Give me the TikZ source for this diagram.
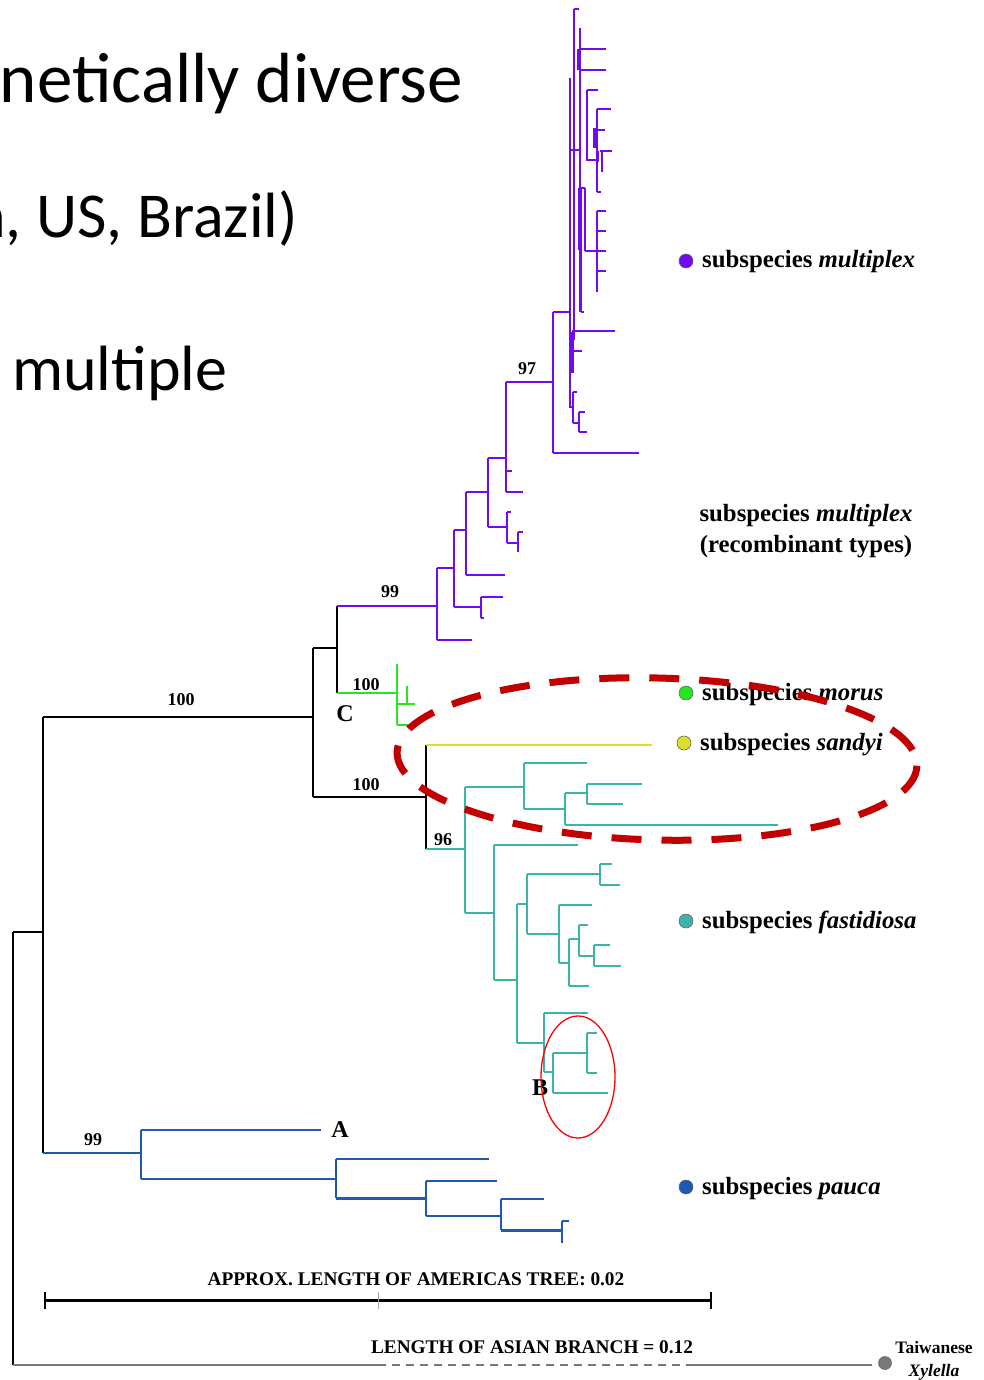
\documentclass[tikz,border=0pt]{standalone}
\usepackage{fontspec}
\setmainfont{Liberation Serif}
\newfontfamily\calib{Carlito}
\definecolor{cpur}{RGB}{112,10,240}
\definecolor{cgrn}{RGB}{40,230,30}
\definecolor{cyel}{RGB}{220,222,40}
\definecolor{cteal}{RGB}{60,180,170}
\definecolor{cblu}{RGB}{30,90,180}
\definecolor{cdred}{RGB}{195,0,0}
\definecolor{cgry}{RGB}{120,120,120}
\tikzset{
  br/.style={line width=2.3pt},
  pur/.style={br,draw=cpur},
  grn/.style={br,draw=cgrn},
  yel/.style={br,draw=cyel},
  teal/.style={br,draw=cteal},
  blu/.style={br,draw=cblu},
  blk/.style={br,draw=black},
  boot/.style={font=\fontsize{18}{20}\selectfont\bfseries,anchor=base,inner sep=0pt},
  clab/.style={font=\fontsize{24}{26}\selectfont\bfseries,anchor=base,inner sep=0pt},
  sub/.style={font=\fontsize{24.8}{28}\selectfont\bfseries,anchor=base west,inner sep=0pt},
  dot/.style={circle,draw=black!60,line width=0.6pt,minimum size=14pt,inner sep=0pt},
  big/.style={font=\calib\fontsize{64}{70}\selectfont,inner sep=0pt},
  scl/.style={font=\fontsize{19.3}{22}\selectfont\bfseries,anchor=base,inner sep=0pt},
}
\begin{document}
\begin{tikzpicture}[x=1pt,y=-1pt]
\useasboundingbox (0,0) rectangle (984,1380);
% slide text (cut at the left edge)
\node[big,font=\calib\fontsize{71}{76}\selectfont,anchor=base east] (t1) at (463,103) {netically diverse};
\node[big,anchor=base east] (t2) at (298,237) {n, US, Brazil)};
\node[big,anchor=base west] (t3) at (12,390) {multiple};
% root and backbone
\draw[blk] (13,932) -- (13,1365);
\draw[blk] (13,932) -- (43,932);
\draw[blk] (43,717) -- (43,1153);
\draw[blk] (43,717) -- (313,717);
\draw[blk] (313,648) -- (313,797);
\draw[blk] (313,648) -- (337,648);
\draw[blk] (337,606) -- (337,693);
\draw[blk] (313,797) -- (426,797);
\draw[blk] (426,745) -- (426,849);
% bottom grey Asian branch
\draw[line width=2.6pt,cgry] (13,1365) -- (378,1365);
\draw[line width=2.6pt,cgry,dash pattern=on 8pt off 6pt] (378,1365) -- (686,1365);
\draw[line width=2.6pt,cgry] (686,1365) -- (872,1365);
\node[dot,fill=cgry,minimum size=13pt] (tw) at (885,1363) {};
\node[font=\fontsize{17.5}{20}\selectfont\bfseries,anchor=base,inner sep=0pt] (twa) at (934,1353) {Taiwanese};
\node[font=\fontsize{17.5}{20}\selectfont\bfseries\itshape,anchor=base,inner sep=0pt] (twb) at (934,1376) {Xylella};
% scale bar
\draw[line width=3pt] (45,1300) -- (711,1300);
\draw[line width=2pt] (45,1292) -- (45,1309) (711,1292) -- (711,1309);
\draw[line width=0.5pt,black!35] (378,1292) -- (378,1309);
\node[scl] (sc1) at (416,1285) {APPROX. LENGTH OF AMERICAS TREE: 0.02};
\node[scl] (sc2) at (532,1353) {LENGTH OF ASIAN BRANCH = 0.12};
% ---- purple clade (recombinant part)
\draw[pur] (337,606) -- (437,606);
\draw[pur] (437,568) -- (437,640) (437,640) -- (472,640) (437,568) -- (454,568);
\draw[pur] (454,530) -- (454,607) (454,607) -- (481,607) (481,597) -- (481,618) (481,597) -- (503,597) (481,618) -- (484,618);
\draw[pur] (454,530) -- (466,530) (466,492) -- (466,575) (466,575) -- (505,575);
\draw[pur] (466,492) -- (488,492) (488,458) -- (488,527) (488,527) -- (507,527);
\draw[pur] (507,512) -- (507,543) (507,512) -- (511,512) (507,543) -- (518,543) (518,532) -- (518,552) (518,532) -- (523,532);
\draw[pur] (488,458) -- (506,458) (506,382) -- (506,492) (506,492) -- (523,492) (506,471) -- (512,471);
\draw[pur] (506,382) -- (553,382);
\draw[pur] (553,312) -- (553,453) (553,453) -- (639,453) (553,312) -- (569,312);
% ---- purple top cluster
\draw[pur] (570,78) -- (570,407) (574,9) -- (574,340) (574,9) -- (579,9);
\draw[pur] (580,28) -- (580,312) (580,49) -- (606,49) (580,70) -- (606,70);
\draw[pur,line width=4pt] (579,49) -- (579,70);
\draw[pur] (570,150) -- (580,150);
\draw[pur] (587,90) -- (587,160) (587,90) -- (598,90) (586,160) -- (598,160);
\draw[pur] (597,109) -- (597,192) (597,109) -- (611,109) (597,192) -- (601,192);
\draw[pur,line width=4pt] (595,128) -- (595,148);
\draw[pur] (595,130) -- (605,130) (600,151) -- (612,151) (602,151) -- (602,172) (598,151) -- (598,162);
\draw[pur] (579,188) -- (579,250) (581,188) -- (581,312) (579,188) -- (585,188) (581,312) -- (584,312);
\draw[pur] (585,188) -- (585,251) (585,251) -- (606,251);
\draw[pur] (597,211) -- (597,292) (597,211) -- (606,211) (597,231) -- (606,231) (597,271) -- (606,271);
\draw[pur,line width=4pt] (572,332) -- (572,373);
\draw[pur] (572,331) -- (615,331) (572,351) -- (582,351);
\draw[pur] (569,407) -- (574,407) (573,392) -- (573,423) (573,392) -- (577,392) (573,423) -- (579,423);
\draw[pur] (579,412) -- (579,432) (579,412) -- (585,412) (579,432) -- (587,432);
% ---- green clade
\draw[grn] (337,693) -- (397,693);
\draw[grn] (397,664) -- (397,725) (397,725) -- (413,725) (397,704) -- (407,704);
\draw[grn] (407,686) -- (407,704) (407,704) -- (415,704);
% ---- sandyi
\draw[yel] (426,745) -- (652,745);
% ---- teal clade
\draw[teal] (426,849) -- (465,849) (465,787) -- (465,913);
\draw[teal] (465,787) -- (524,787) (524,763) -- (524,809) (524,763) -- (587,763) (524,809) -- (565,809);
\draw[teal] (565,793) -- (565,825) (565,825) -- (778,825) (565,793) -- (587,793);
\draw[teal] (587,784) -- (587,804) (587,784) -- (642,784) (587,804) -- (623,804);
\draw[teal] (465,913) -- (494,913) (494,845) -- (494,980) (494,845) -- (578,845);
\draw[teal] (494,980) -- (517,980) (517,904) -- (517,1043);
\draw[teal] (517,904) -- (527,904) (527,874) -- (527,934) (527,874) -- (600,874);
\draw[teal] (600,864) -- (600,885) (600,864) -- (612,864) (600,885) -- (620,885);
\draw[teal] (527,934) -- (559,934) (559,905) -- (559,963) (559,905) -- (592,905) (559,963) -- (569,963);
\draw[teal] (569,939) -- (569,986) (569,986) -- (589,986) (569,939) -- (579,939);
\draw[teal] (579,925) -- (579,956) (579,925) -- (588,925) (579,956) -- (594,956);
\draw[teal] (594,945) -- (594,966) (594,945) -- (610,945) (594,966) -- (621,966);
\draw[teal] (517,1043) -- (544,1043) (544,1013) -- (544,1072) (544,1013) -- (588,1013) (544,1072) -- (553,1072);
\draw[teal] (553,1053) -- (553,1093) (553,1093) -- (608,1093) (553,1053) -- (587,1053);
\draw[teal] (587,1033) -- (587,1073) (587,1033) -- (597,1033) (587,1073) -- (597,1073);
% ---- blue clade
\draw[blu] (43,1153) -- (141,1153) (141,1130) -- (141,1179) (141,1130) -- (321,1130) (141,1179) -- (336,1179);
\draw[blu] (336,1159) -- (336,1198) (336,1159) -- (489,1159);
\draw[blu,line width=3pt] (336,1198) -- (426,1198);
\draw[blu] (426,1181) -- (426,1216) (426,1181) -- (497,1181) (426,1216) -- (501,1216);
\draw[blu] (501,1199) -- (501,1230) (501,1199) -- (544,1199);
\draw[blu,line width=3pt] (501,1230) -- (562,1230);
\draw[blu] (562,1221) -- (562,1243) (562,1221) -- (569,1221);
% bootstrap values and clade letters
\node[boot] (b1) at (181,705) {100};
\node[boot] (b2) at (390,597) {99};
\node[boot] (b3) at (527,374) {97};
\node[boot] (b4) at (366,690) {100};
\node[boot] (b5) at (366,790) {100};
\node[boot] (b6) at (443,845) {96};
\node[boot] (b7) at (93,1145) {99};
\node[clab] (lc) at (345,721) {C};
\node[clab] (lb) at (540,1095) {B};
\node[clab] (la) at (340,1137) {A};
% legend labels
\node[dot,fill=cpur] (d1) at (686,261) {};
\node[sub] (s1) at (702,267) {subspecies \textit{multiplex}};
\node[font=\fontsize{24.8}{31}\selectfont\bfseries,align=center,inner sep=0pt,anchor=base] (s2) at (806,552) {subspecies \textit{multiplex}\\(recombinant types)};
\node[dot,fill=cgrn] (d3) at (686,693) {};
\node[sub] (s3) at (702,700) {subspecies \textit{morus}};
\node[dot,fill=cyel] (d4) at (684,743) {};
\node[sub] (s4) at (700,750) {subspecies \textit{sandyi}};
\node[dot,fill=cteal] (d5) at (686,921) {};
\node[sub] (s5) at (702,928) {subspecies \textit{fastidiosa}};
\node[dot,fill=cblu] (d6) at (686,1187) {};
\node[sub] (s6) at (702,1194) {subspecies \textit{pauca}};
% highlight ellipses
\draw[cdred,line width=7pt,dash pattern=on 30pt off 20pt,rotate around={-1.5:(657,759)}] (657,759) ellipse [x radius=260, y radius=81];
\draw[red,line width=1.3pt] (578,1077) ellipse [x radius=37, y radius=61];
\end{tikzpicture}
\end{document}
